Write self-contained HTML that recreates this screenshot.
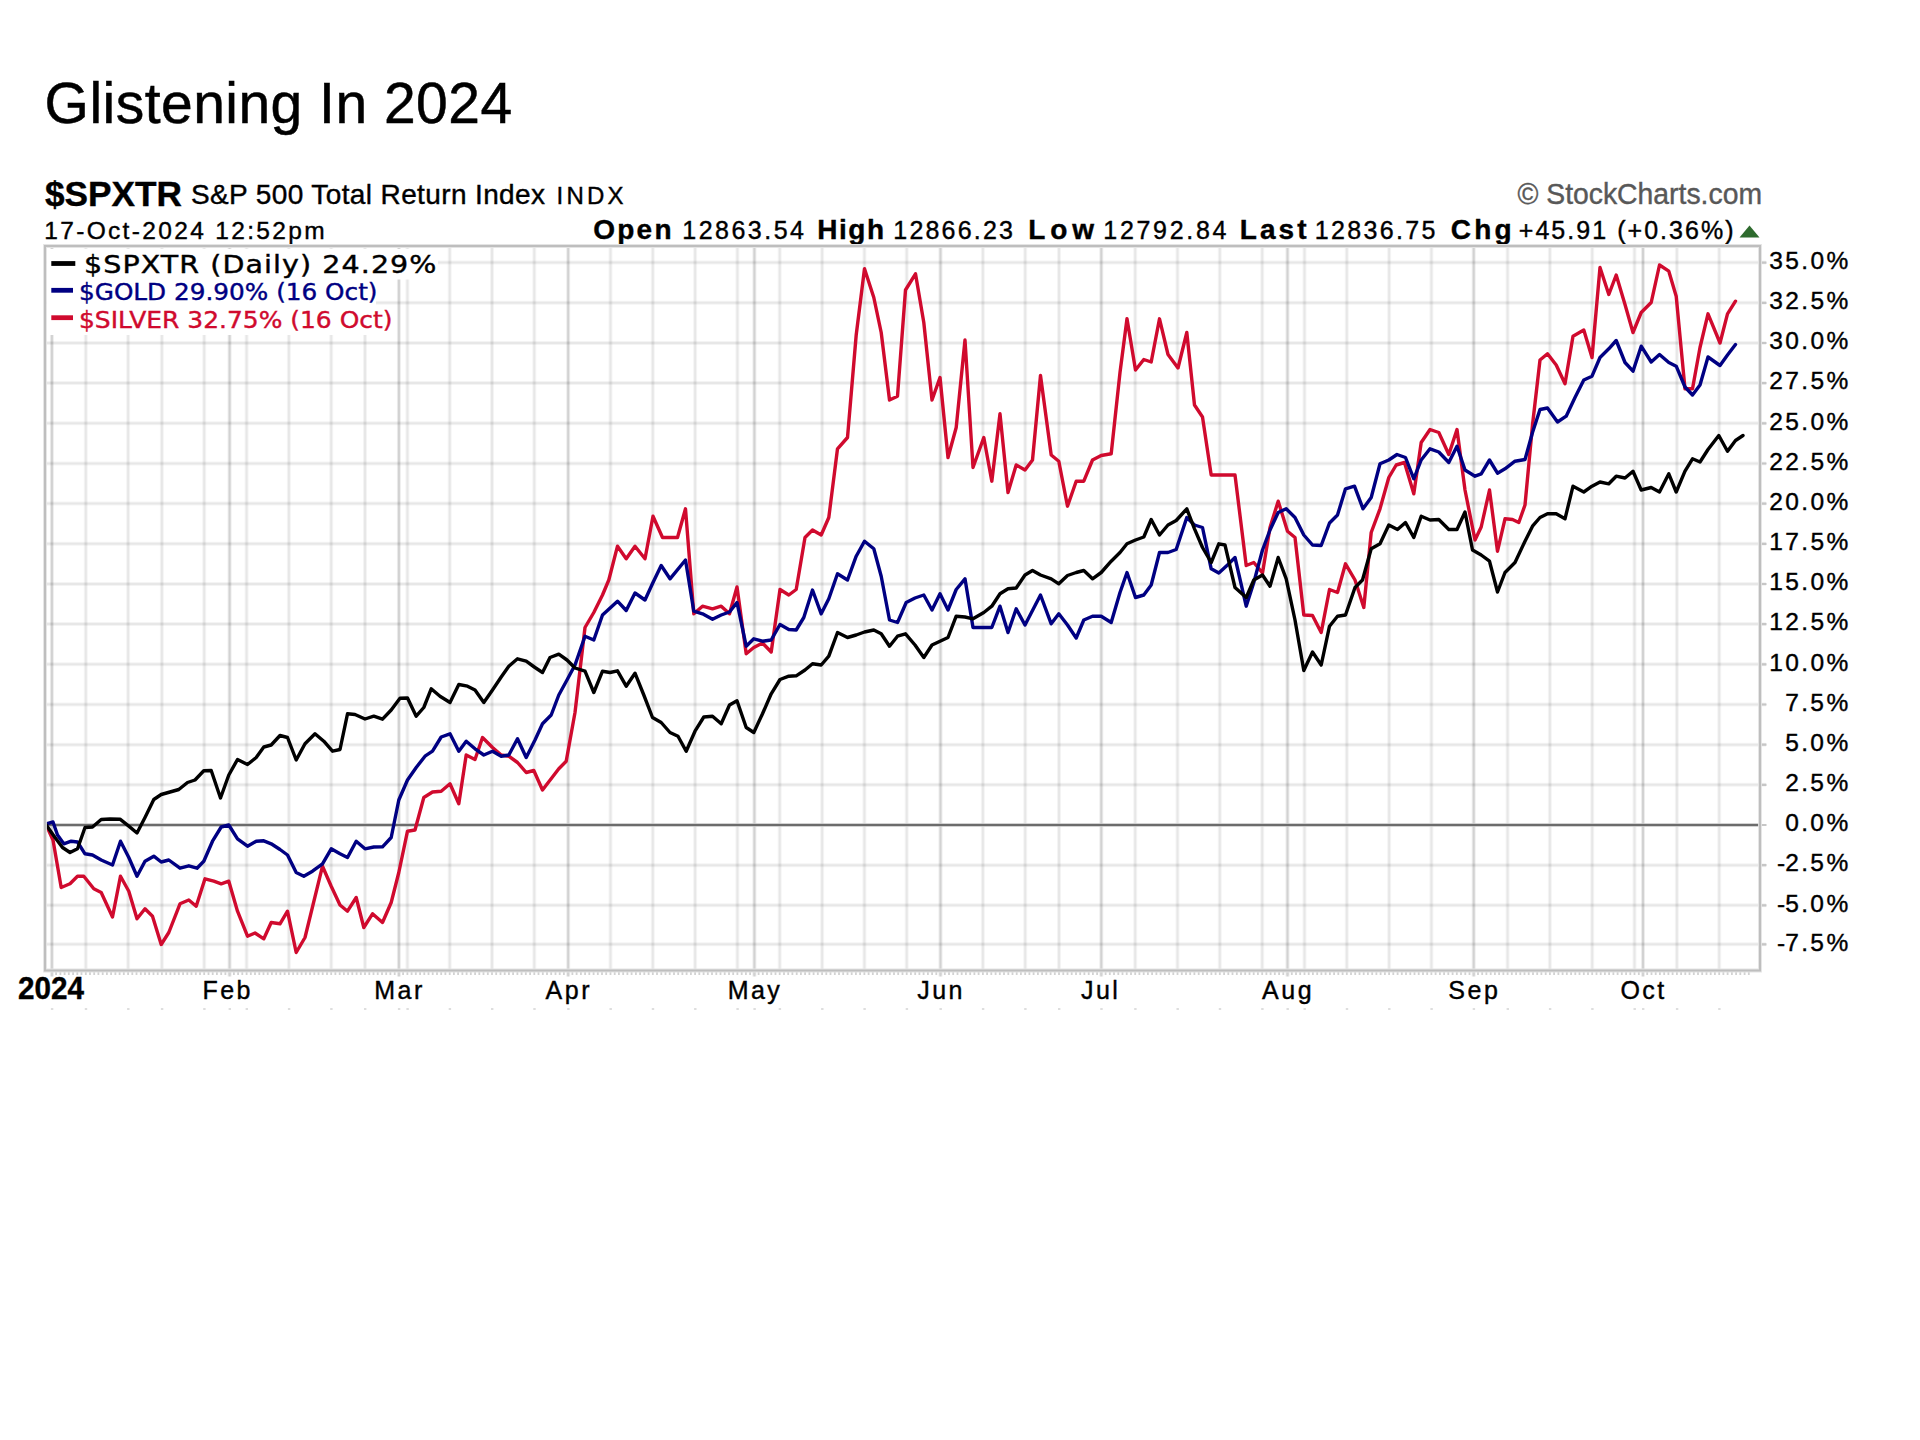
<!DOCTYPE html>
<html lang="en"><head><meta charset="utf-8"><title>Glistening In 2024</title>
<style>html,body{margin:0;padding:0;background:#fff}body{width:1920px;height:1440px;overflow:hidden}svg{display:block}text{font-family:"Liberation Sans",Arial,sans-serif;fill:#000}.t{font-size:57px;stroke:#000;stroke-width:0.5px}.dj{font-family:"DejaVu Sans",Verdana,sans-serif}.b{font-weight:bold}#chart text{stroke-width:0.4px;stroke:#000}.yl{font-size:24.5px;letter-spacing:2.4px;text-anchor:end}.xl{font-size:25px;letter-spacing:2.5px;text-anchor:middle}.ln{fill:none;stroke-width:3.4;stroke-linejoin:round;stroke-linecap:round}</style></head><body>
<svg width="1920" height="1440" viewBox="0 0 1920 1440">
<rect width="1920" height="1440" fill="#fff"/>
<text class="t" x="44.6" y="122.5" textLength="467.5" lengthAdjust="spacing">Glistening In 2024</text>
<g id="chart">
<text class="b" x="45" y="205.5" font-size="35" textLength="137" lengthAdjust="spacingAndGlyphs">$SPXTR</text>
<text x="191" y="203.5" font-size="28" textLength="354" lengthAdjust="spacing">S&amp;P 500 Total Return Index</text>
<text x="556.5" y="203.5" font-size="24" textLength="67" lengthAdjust="spacing">INDX</text>
<text x="1517.5" y="203.5" font-size="29" textLength="244.5" lengthAdjust="spacingAndGlyphs" style="fill:#585858;stroke:#585858">© StockCharts.com</text>
<text x="44.2" y="238.5" font-size="24.5" textLength="280.5" lengthAdjust="spacing">17-Oct-2024 12:52pm</text>
<text class="b" x="593.3" y="239" font-size="28" textLength="78.2" lengthAdjust="spacing">Open</text>
<text x="682.3" y="239" font-size="25" textLength="121.7" lengthAdjust="spacing">12863.54</text>
<text class="b" x="817.3" y="239" font-size="28" textLength="66.7" lengthAdjust="spacing">High</text>
<text x="893.3" y="239" font-size="25" textLength="119.7" lengthAdjust="spacing">12866.23</text>
<text class="b" x="1028.3" y="239" font-size="28" textLength="65.7" lengthAdjust="spacing">Low</text>
<text x="1103.3" y="239" font-size="25" textLength="123.2" lengthAdjust="spacing">12792.84</text>
<text class="b" x="1239.8" y="239" font-size="28" textLength="66.7" lengthAdjust="spacing">Last</text>
<text x="1314.8" y="239" font-size="25" textLength="120.7" lengthAdjust="spacing">12836.75</text>
<text class="b" x="1450.8" y="239" font-size="28" textLength="60.7" lengthAdjust="spacing">Chg</text>
<text x="1518.8" y="239" font-size="25" textLength="214.7" lengthAdjust="spacing">+45.91 (+0.36%)</text>
<path d="M1739.5 237.5 L1749.5 225.5 L1759.5 237.5 Z" fill="#2e6b2e"/>
<rect x="45.0" y="246.0" width="1715.0" height="724.5" fill="#fff"/>
<path d="M45.0 262.6H1766.0M45.0 302.8H1766.0M45.0 343.0H1766.0M45.0 383.1H1766.0M45.0 423.3H1766.0M45.0 463.5H1766.0M45.0 503.6H1766.0M45.0 543.8H1766.0M45.0 584.0H1766.0M45.0 624.1H1766.0M45.0 664.3H1766.0M45.0 704.5H1766.0M45.0 744.7H1766.0M45.0 784.8H1766.0M45.0 865.2H1766.0M45.0 905.3H1766.0M45.0 944.3H1766.0" stroke="#000" stroke-opacity="0.042" stroke-width="4.0" fill="none"/>
<path d="M45.0 262.6H1766.0M45.0 302.8H1766.0M45.0 343.0H1766.0M45.0 383.1H1766.0M45.0 423.3H1766.0M45.0 463.5H1766.0M45.0 503.6H1766.0M45.0 543.8H1766.0M45.0 584.0H1766.0M45.0 624.1H1766.0M45.0 664.3H1766.0M45.0 704.5H1766.0M45.0 744.7H1766.0M45.0 784.8H1766.0M45.0 865.2H1766.0M45.0 905.3H1766.0M45.0 944.3H1766.0" stroke="#000" stroke-opacity="0.05" stroke-width="2.0" fill="none"/>
<path d="M85.8 246.0V970.5M128.1 246.0V970.5M161.9 246.0V970.5M204.2 246.0V970.5M246.6 246.0V970.5M288.9 246.0V970.5M331.2 246.0V970.5M365.0 246.0V970.5M407.4 246.0V970.5M449.7 246.0V970.5M492.0 246.0V970.5M534.3 246.0V970.5M610.5 246.0V970.5M652.8 246.0V970.5M695.1 246.0V970.5M737.4 246.0V970.5M779.7 246.0V970.5M822.1 246.0V970.5M864.4 246.0V970.5M906.7 246.0V970.5M982.9 246.0V970.5M1025.2 246.0V970.5M1059.0 246.0V970.5M1135.2 246.0V970.5M1177.5 246.0V970.5M1219.8 246.0V970.5M1262.2 246.0V970.5M1304.5 246.0V970.5M1346.8 246.0V970.5M1389.1 246.0V970.5M1431.4 246.0V970.5M1507.6 246.0V970.5M1549.9 246.0V970.5M1592.2 246.0V970.5M1634.5 246.0V970.5M1676.9 246.0V970.5M1719.2 246.0V970.5" stroke="#000" stroke-opacity="0.042" stroke-width="4.0" fill="none"/>
<path d="M85.8 246.0V970.5M128.1 246.0V970.5M161.9 246.0V970.5M204.2 246.0V970.5M246.6 246.0V970.5M288.9 246.0V970.5M331.2 246.0V970.5M365.0 246.0V970.5M407.4 246.0V970.5M449.7 246.0V970.5M492.0 246.0V970.5M534.3 246.0V970.5M610.5 246.0V970.5M652.8 246.0V970.5M695.1 246.0V970.5M737.4 246.0V970.5M779.7 246.0V970.5M822.1 246.0V970.5M864.4 246.0V970.5M906.7 246.0V970.5M982.9 246.0V970.5M1025.2 246.0V970.5M1059.0 246.0V970.5M1135.2 246.0V970.5M1177.5 246.0V970.5M1219.8 246.0V970.5M1262.2 246.0V970.5M1304.5 246.0V970.5M1346.8 246.0V970.5M1389.1 246.0V970.5M1431.4 246.0V970.5M1507.6 246.0V970.5M1549.9 246.0V970.5M1592.2 246.0V970.5M1634.5 246.0V970.5M1676.9 246.0V970.5M1719.2 246.0V970.5" stroke="#000" stroke-opacity="0.05" stroke-width="2.0" fill="none"/>
<path d="M51.9 246.0V976.5M229.6 246.0V976.5M398.9 246.0V976.5M568.2 246.0V976.5M754.4 246.0V976.5M940.5 246.0V976.5M1101.3 246.0V976.5M1287.5 246.0V976.5M1473.7 246.0V976.5M1643.0 246.0V976.5" stroke="#000" stroke-opacity="0.07" stroke-width="4.0" fill="none"/>
<path d="M51.9 246.0V976.5M229.6 246.0V976.5M398.9 246.0V976.5M568.2 246.0V976.5M754.4 246.0V976.5M940.5 246.0V976.5M1101.3 246.0V976.5M1287.5 246.0V976.5M1473.7 246.0V976.5M1643.0 246.0V976.5" stroke="#000" stroke-opacity="0.115" stroke-width="2.0" fill="none"/>
<path d="M51.9 970.5v4.5M56.1 970.5v4.5M60.4 970.5v4.5M64.6 970.5v4.5M68.8 970.5v4.5M73.1 970.5v4.5M77.3 970.5v4.5M81.5 970.5v4.5M85.8 970.5v4.5M90.0 970.5v4.5M94.2 970.5v4.5M98.4 970.5v4.5M102.7 970.5v4.5M106.9 970.5v4.5M111.1 970.5v4.5M115.4 970.5v4.5M119.6 970.5v4.5M123.8 970.5v4.5M128.1 970.5v4.5M132.3 970.5v4.5M136.5 970.5v4.5M140.8 970.5v4.5M145.0 970.5v4.5M149.2 970.5v4.5M153.5 970.5v4.5M157.7 970.5v4.5M161.9 970.5v4.5M166.2 970.5v4.5M170.4 970.5v4.5M174.6 970.5v4.5M178.8 970.5v4.5M183.1 970.5v4.5M187.3 970.5v4.5M191.5 970.5v4.5M195.8 970.5v4.5M200.0 970.5v4.5M204.2 970.5v4.5M208.5 970.5v4.5M212.7 970.5v4.5M216.9 970.5v4.5M221.2 970.5v4.5M225.4 970.5v4.5M229.6 970.5v4.5M233.9 970.5v4.5M238.1 970.5v4.5M242.3 970.5v4.5M246.6 970.5v4.5M250.8 970.5v4.5M255.0 970.5v4.5M259.3 970.5v4.5M263.5 970.5v4.5M267.7 970.5v4.5M271.9 970.5v4.5M276.2 970.5v4.5M280.4 970.5v4.5M284.6 970.5v4.5M288.9 970.5v4.5M293.1 970.5v4.5M297.3 970.5v4.5M301.6 970.5v4.5M305.8 970.5v4.5M310.0 970.5v4.5M314.3 970.5v4.5M318.5 970.5v4.5M322.7 970.5v4.5M327.0 970.5v4.5M331.2 970.5v4.5M335.4 970.5v4.5M339.7 970.5v4.5M343.9 970.5v4.5M348.1 970.5v4.5M352.3 970.5v4.5M356.6 970.5v4.5M360.8 970.5v4.5M365.0 970.5v4.5M369.3 970.5v4.5M373.5 970.5v4.5M377.7 970.5v4.5M382.0 970.5v4.5M386.2 970.5v4.5M390.4 970.5v4.5M394.7 970.5v4.5M398.9 970.5v4.5M403.1 970.5v4.5M407.4 970.5v4.5M411.6 970.5v4.5M415.8 970.5v4.5M420.1 970.5v4.5M424.3 970.5v4.5M428.5 970.5v4.5M432.7 970.5v4.5M437.0 970.5v4.5M441.2 970.5v4.5M445.4 970.5v4.5M449.7 970.5v4.5M453.9 970.5v4.5M458.1 970.5v4.5M462.4 970.5v4.5M466.6 970.5v4.5M470.8 970.5v4.5M475.1 970.5v4.5M479.3 970.5v4.5M483.5 970.5v4.5M487.8 970.5v4.5M492.0 970.5v4.5M496.2 970.5v4.5M500.5 970.5v4.5M504.7 970.5v4.5M508.9 970.5v4.5M513.1 970.5v4.5M517.4 970.5v4.5M521.6 970.5v4.5M525.8 970.5v4.5M530.1 970.5v4.5M534.3 970.5v4.5M538.5 970.5v4.5M542.8 970.5v4.5M547.0 970.5v4.5M551.2 970.5v4.5M555.5 970.5v4.5M559.7 970.5v4.5M563.9 970.5v4.5M568.2 970.5v4.5M572.4 970.5v4.5M576.6 970.5v4.5M580.9 970.5v4.5M585.1 970.5v4.5M589.3 970.5v4.5M593.6 970.5v4.5M597.8 970.5v4.5M602.0 970.5v4.5M606.2 970.5v4.5M610.5 970.5v4.5M614.7 970.5v4.5M618.9 970.5v4.5M623.2 970.5v4.5M627.4 970.5v4.5M631.6 970.5v4.5M635.9 970.5v4.5M640.1 970.5v4.5M644.3 970.5v4.5M648.6 970.5v4.5M652.8 970.5v4.5M657.0 970.5v4.5M661.3 970.5v4.5M665.5 970.5v4.5M669.7 970.5v4.5M674.0 970.5v4.5M678.2 970.5v4.5M682.4 970.5v4.5M686.6 970.5v4.5M690.9 970.5v4.5M695.1 970.5v4.5M699.3 970.5v4.5M703.6 970.5v4.5M707.8 970.5v4.5M712.0 970.5v4.5M716.3 970.5v4.5M720.5 970.5v4.5M724.7 970.5v4.5M729.0 970.5v4.5M733.2 970.5v4.5M737.4 970.5v4.5M741.7 970.5v4.5M745.9 970.5v4.5M750.1 970.5v4.5M754.4 970.5v4.5M758.6 970.5v4.5M762.8 970.5v4.5M767.0 970.5v4.5M771.3 970.5v4.5M775.5 970.5v4.5M779.7 970.5v4.5M784.0 970.5v4.5M788.2 970.5v4.5M792.4 970.5v4.5M796.7 970.5v4.5M800.9 970.5v4.5M805.1 970.5v4.5M809.4 970.5v4.5M813.6 970.5v4.5M817.8 970.5v4.5M822.1 970.5v4.5M826.3 970.5v4.5M830.5 970.5v4.5M834.8 970.5v4.5M839.0 970.5v4.5M843.2 970.5v4.5M847.5 970.5v4.5M851.7 970.5v4.5M855.9 970.5v4.5M860.1 970.5v4.5M864.4 970.5v4.5M868.6 970.5v4.5M872.8 970.5v4.5M877.1 970.5v4.5M881.3 970.5v4.5M885.5 970.5v4.5M889.8 970.5v4.5M894.0 970.5v4.5M898.2 970.5v4.5M902.5 970.5v4.5M906.7 970.5v4.5M910.9 970.5v4.5M915.2 970.5v4.5M919.4 970.5v4.5M923.6 970.5v4.5M927.9 970.5v4.5M932.1 970.5v4.5M936.3 970.5v4.5M940.5 970.5v4.5M944.8 970.5v4.5M949.0 970.5v4.5M953.2 970.5v4.5M957.5 970.5v4.5M961.7 970.5v4.5M965.9 970.5v4.5M970.2 970.5v4.5M974.4 970.5v4.5M978.6 970.5v4.5M982.9 970.5v4.5M987.1 970.5v4.5M991.3 970.5v4.5M995.6 970.5v4.5M999.8 970.5v4.5M1004.0 970.5v4.5M1008.3 970.5v4.5M1012.5 970.5v4.5M1016.7 970.5v4.5M1020.9 970.5v4.5M1025.2 970.5v4.5M1029.4 970.5v4.5M1033.6 970.5v4.5M1037.9 970.5v4.5M1042.1 970.5v4.5M1046.3 970.5v4.5M1050.6 970.5v4.5M1054.8 970.5v4.5M1059.0 970.5v4.5M1063.3 970.5v4.5M1067.5 970.5v4.5M1071.7 970.5v4.5M1076.0 970.5v4.5M1080.2 970.5v4.5M1084.4 970.5v4.5M1088.7 970.5v4.5M1092.9 970.5v4.5M1097.1 970.5v4.5M1101.3 970.5v4.5M1105.6 970.5v4.5M1109.8 970.5v4.5M1114.0 970.5v4.5M1118.3 970.5v4.5M1122.5 970.5v4.5M1126.7 970.5v4.5M1131.0 970.5v4.5M1135.2 970.5v4.5M1139.4 970.5v4.5M1143.7 970.5v4.5M1147.9 970.5v4.5M1152.1 970.5v4.5M1156.4 970.5v4.5M1160.6 970.5v4.5M1164.8 970.5v4.5M1169.1 970.5v4.5M1173.3 970.5v4.5M1177.5 970.5v4.5M1181.8 970.5v4.5M1186.0 970.5v4.5M1190.2 970.5v4.5M1194.4 970.5v4.5M1198.7 970.5v4.5M1202.9 970.5v4.5M1207.1 970.5v4.5M1211.4 970.5v4.5M1215.6 970.5v4.5M1219.8 970.5v4.5M1224.1 970.5v4.5M1228.3 970.5v4.5M1232.5 970.5v4.5M1236.8 970.5v4.5M1241.0 970.5v4.5M1245.2 970.5v4.5M1249.5 970.5v4.5M1253.7 970.5v4.5M1257.9 970.5v4.5M1262.2 970.5v4.5M1266.4 970.5v4.5M1270.6 970.5v4.5M1274.8 970.5v4.5M1279.1 970.5v4.5M1283.3 970.5v4.5M1287.5 970.5v4.5M1291.8 970.5v4.5M1296.0 970.5v4.5M1300.2 970.5v4.5M1304.5 970.5v4.5M1308.7 970.5v4.5M1312.9 970.5v4.5M1317.2 970.5v4.5M1321.4 970.5v4.5M1325.6 970.5v4.5M1329.9 970.5v4.5M1334.1 970.5v4.5M1338.3 970.5v4.5M1342.6 970.5v4.5M1346.8 970.5v4.5M1351.0 970.5v4.5M1355.2 970.5v4.5M1359.5 970.5v4.5M1363.7 970.5v4.5M1367.9 970.5v4.5M1372.2 970.5v4.5M1376.4 970.5v4.5M1380.6 970.5v4.5M1384.9 970.5v4.5M1389.1 970.5v4.5M1393.3 970.5v4.5M1397.6 970.5v4.5M1401.8 970.5v4.5M1406.0 970.5v4.5M1410.3 970.5v4.5M1414.5 970.5v4.5M1418.7 970.5v4.5M1423.0 970.5v4.5M1427.2 970.5v4.5M1431.4 970.5v4.5M1435.6 970.5v4.5M1439.9 970.5v4.5M1444.1 970.5v4.5M1448.3 970.5v4.5M1452.6 970.5v4.5M1456.8 970.5v4.5M1461.0 970.5v4.5M1465.3 970.5v4.5M1469.5 970.5v4.5M1473.7 970.5v4.5M1478.0 970.5v4.5M1482.2 970.5v4.5M1486.4 970.5v4.5M1490.7 970.5v4.5M1494.9 970.5v4.5M1499.1 970.5v4.5M1503.4 970.5v4.5M1507.6 970.5v4.5M1511.8 970.5v4.5M1516.1 970.5v4.5M1520.3 970.5v4.5M1524.5 970.5v4.5M1528.7 970.5v4.5M1533.0 970.5v4.5M1537.2 970.5v4.5M1541.4 970.5v4.5M1545.7 970.5v4.5M1549.9 970.5v4.5M1554.1 970.5v4.5M1558.4 970.5v4.5M1562.6 970.5v4.5M1566.8 970.5v4.5M1571.1 970.5v4.5M1575.3 970.5v4.5M1579.5 970.5v4.5M1583.8 970.5v4.5M1588.0 970.5v4.5M1592.2 970.5v4.5M1596.5 970.5v4.5M1600.7 970.5v4.5M1604.9 970.5v4.5M1609.1 970.5v4.5M1613.4 970.5v4.5M1617.6 970.5v4.5M1621.8 970.5v4.5M1626.1 970.5v4.5M1630.3 970.5v4.5M1634.5 970.5v4.5M1638.8 970.5v4.5M1643.0 970.5v4.5M1647.2 970.5v4.5M1651.5 970.5v4.5M1655.7 970.5v4.5M1659.9 970.5v4.5M1664.2 970.5v4.5M1668.4 970.5v4.5M1672.6 970.5v4.5M1676.9 970.5v4.5M1681.1 970.5v4.5M1685.3 970.5v4.5M1689.5 970.5v4.5M1693.8 970.5v4.5M1698.0 970.5v4.5M1702.2 970.5v4.5M1706.5 970.5v4.5M1710.7 970.5v4.5M1714.9 970.5v4.5M1719.2 970.5v4.5M1723.4 970.5v4.5M1727.6 970.5v4.5M1731.9 970.5v4.5M1736.1 970.5v4.5M1740.3 970.5v4.5M1744.6 970.5v4.5M1748.8 970.5v4.5" stroke="#d2d2d2" stroke-width="1.8" fill="none"/>
<path d="M50.9 1009h2.4M84.8 1009h2.4M127.1 1009h2.4M160.9 1009h2.4M203.2 1009h2.4M228.6 1009h2.4M245.6 1009h2.4M287.9 1009h2.4M330.2 1009h2.4M364.0 1009h2.4M397.9 1009h2.4M406.4 1009h2.4M448.7 1009h2.4M491.0 1009h2.4M533.3 1009h2.4M567.2 1009h2.4M609.5 1009h2.4M651.8 1009h2.4M694.1 1009h2.4M736.4 1009h2.4M753.4 1009h2.4M778.7 1009h2.4M821.1 1009h2.4M863.4 1009h2.4M905.7 1009h2.4M939.5 1009h2.4M981.9 1009h2.4M1024.2 1009h2.4M1058.0 1009h2.4M1100.3 1009h2.4M1134.2 1009h2.4M1176.5 1009h2.4M1218.8 1009h2.4M1261.2 1009h2.4M1286.5 1009h2.4M1303.5 1009h2.4M1345.8 1009h2.4M1388.1 1009h2.4M1430.4 1009h2.4M1472.7 1009h2.4M1506.6 1009h2.4M1548.9 1009h2.4M1591.2 1009h2.4M1633.5 1009h2.4M1642.0 1009h2.4M1675.9 1009h2.4M1718.2 1009h2.4" stroke="#dedede" stroke-width="2.2" fill="none"/>
<path d="M1760.0 262.6h6.5M1760.0 302.8h6.5M1760.0 343.0h6.5M1760.0 383.1h6.5M1760.0 423.3h6.5M1760.0 463.5h6.5M1760.0 503.6h6.5M1760.0 543.8h6.5M1760.0 584.0h6.5M1760.0 624.1h6.5M1760.0 664.3h6.5M1760.0 704.5h6.5M1760.0 744.7h6.5M1760.0 784.8h6.5M1760.0 825.0h6.5M1760.0 865.2h6.5M1760.0 905.3h6.5M1760.0 944.3h6.5" stroke="#c6c6c6" stroke-width="2.2" fill="none"/>
<path d="M45.0 825.0H1760.0" stroke="#c4c4c4" stroke-width="3.6" fill="none"/>
<path d="M45.0 825.0H1760.0" stroke="#6c6c6c" stroke-width="2.0" fill="none"/>
<rect x="47" y="249" width="391" height="30.5" fill="#fff"/>
<rect x="47" y="279" width="329" height="29" fill="#fff"/>
<rect x="47" y="307.5" width="343.5" height="27.5" fill="#fff"/>
<clipPath id="cp"><rect x="45.0" y="246.0" width="1715.0" height="724.5"/></clipPath>
<g clip-path="url(#cp)">
<path class="ln" d="M46.2 825.0 L53.0 840.0 L61.2 887.5 L70.0 883.8 L77.5 876.2 L83.8 876.2 L93.8 888.8 L101.2 892.5 L112.5 917.0 L120.5 876.2 L128.8 891.2 L137.0 918.8 L145.0 908.8 L152.5 916.2 L161.2 944.5 L168.8 932.5 L180.0 903.8 L188.8 900.0 L196.2 906.2 L205.0 878.8 L213.8 881.2 L221.2 883.8 L228.8 881.2 L237.5 911.2 L247.5 936.2 L255.0 933.0 L263.8 938.8 L271.2 922.5 L280.0 923.8 L287.5 911.2 L296.2 952.5 L305.0 937.5 L322.5 866.2 L331.2 886.2 L340.0 905.0 L347.5 911.2 L356.2 897.5 L363.8 927.5 L372.5 913.8 L382.5 922.5 L391.2 902.5 L398.8 872.5 L407.5 831.2 L415.0 830.0 L423.8 797.5 L432.5 792.0 L441.2 791.2 L450.0 783.8 L458.8 803.8 L466.2 755.0 L475.0 759.5 L482.5 737.5 L492.5 747.5 L501.2 755.0 L508.8 756.2 L517.5 762.5 L526.2 772.5 L533.8 770.5 L542.5 790.0 L558.8 768.8 L566.2 761.2 L575.0 712.5 L585.0 627.5 L593.8 612.5 L602.5 595.0 L608.8 580.0 L617.5 546.2 L626.2 558.8 L635.0 546.2 L645.0 558.8 L653.0 516.2 L662.5 537.5 L677.5 537.5 L685.5 508.8 L693.8 613.8 L702.5 606.2 L712.5 608.8 L721.2 606.2 L729.5 613.8 L737.0 587.0 L746.2 653.8 L753.8 647.5 L762.5 643.0 L771.2 652.0 L780.0 589.5 L788.8 595.0 L796.2 589.5 L805.0 537.5 L812.5 530.0 L821.2 535.0 L828.8 517.5 L837.5 448.8 L847.5 437.5 L856.2 335.0 L864.5 268.8 L873.8 297.5 L881.2 332.5 L889.5 400.0 L897.5 396.2 L905.5 290.0 L915.5 273.8 L923.8 322.5 L932.0 400.0 L940.0 377.5 L948.0 457.5 L956.2 427.5 L965.0 340.0 L973.0 467.5 L983.8 437.5 L991.8 481.2 L1000.0 413.8 L1008.0 492.5 L1016.2 465.0 L1025.0 470.0 L1032.5 460.0 L1040.5 375.5 L1051.2 455.0 L1058.8 461.2 L1067.5 506.2 L1076.2 481.2 L1083.8 481.2 L1092.5 460.0 L1101.2 455.5 L1111.2 453.8 L1120.0 372.5 L1127.0 318.8 L1135.5 370.0 L1143.8 359.5 L1151.2 362.0 L1159.5 318.8 L1168.0 354.5 L1178.0 368.0 L1186.8 332.5 L1194.5 405.0 L1202.5 417.0 L1211.2 475.0 L1235.0 475.0 L1246.2 565.5 L1253.8 562.5 L1262.5 573.0 L1270.0 527.5 L1278.2 501.2 L1287.5 531.2 L1295.0 537.5 L1303.8 615.0 L1312.5 615.5 L1321.2 632.5 L1329.5 589.5 L1337.5 592.5 L1345.5 563.8 L1355.0 580.0 L1363.8 607.5 L1371.2 532.5 L1380.0 508.8 L1388.8 477.5 L1396.2 465.0 L1404.5 462.5 L1413.8 493.8 L1421.2 442.5 L1430.0 429.5 L1438.8 432.5 L1448.8 454.5 L1457.0 429.5 L1465.0 490.0 L1475.0 540.0 L1481.2 527.0 L1489.5 490.0 L1497.5 551.2 L1505.0 518.8 L1512.5 519.5 L1518.8 522.5 L1525.0 505.0 L1532.5 425.0 L1540.0 360.0 L1547.5 353.8 L1556.2 365.0 L1565.0 383.8 L1573.0 336.2 L1583.8 330.0 L1592.0 357.5 L1600.0 267.5 L1608.8 294.5 L1616.2 275.0 L1625.0 304.5 L1633.0 332.5 L1641.2 312.5 L1651.2 302.5 L1659.5 265.0 L1668.8 271.2 L1676.2 296.2 L1685.0 388.8 L1692.5 388.8 L1700.0 347.5 L1708.0 313.8 L1720.0 343.0 L1727.5 313.8 L1735.5 301.2" stroke="#d00a2e"/>
<path class="ln" d="M46.2 823.8 L53.0 822.0 L57.5 835.0 L63.8 843.8 L71.2 841.2 L77.5 842.0 L85.0 853.8 L92.5 855.0 L101.2 860.0 L112.5 865.0 L120.5 841.2 L128.8 857.5 L137.0 876.2 L145.0 861.2 L153.8 856.2 L161.2 862.0 L168.8 860.0 L180.0 868.2 L188.8 865.8 L197.0 868.2 L203.8 861.2 L212.5 841.2 L221.2 827.0 L228.8 825.0 L237.5 838.8 L247.5 846.2 L256.2 841.2 L263.8 840.8 L271.2 843.8 L280.0 849.5 L287.5 855.0 L296.2 872.5 L303.8 876.2 L312.5 871.2 L322.5 863.8 L331.2 848.8 L340.0 853.8 L347.5 857.5 L356.2 841.2 L365.0 848.8 L373.8 847.0 L382.5 846.8 L391.2 837.5 L398.8 800.0 L407.5 780.0 L416.2 767.5 L425.0 756.2 L432.5 751.2 L441.2 737.0 L450.0 733.8 L458.8 751.2 L466.2 741.2 L475.0 748.8 L483.8 755.0 L492.5 751.2 L501.2 756.2 L508.8 755.0 L517.5 738.8 L526.2 757.5 L535.0 740.0 L542.5 723.8 L551.2 715.0 L558.8 695.0 L567.0 680.0 L575.0 665.0 L585.0 636.2 L593.8 640.0 L602.5 615.0 L617.5 601.2 L626.2 610.5 L635.0 593.0 L645.0 600.0 L653.0 582.5 L661.2 565.5 L670.0 578.8 L685.5 560.0 L693.8 611.2 L702.5 613.8 L712.5 619.2 L721.2 615.0 L729.5 612.0 L737.0 602.5 L746.2 646.2 L753.8 638.8 L762.5 641.2 L771.2 640.0 L780.0 624.5 L788.8 629.5 L796.2 630.0 L803.8 617.5 L812.5 590.0 L821.2 613.8 L828.8 598.8 L837.5 573.8 L847.5 580.0 L856.2 556.2 L864.5 541.2 L873.8 548.8 L881.2 576.2 L889.5 620.0 L897.5 622.5 L906.2 602.5 L915.0 598.0 L923.8 595.0 L932.0 610.0 L940.0 593.8 L948.0 610.0 L956.2 589.5 L965.0 578.8 L973.0 627.5 L991.8 627.5 L1000.0 606.2 L1008.0 632.5 L1016.2 608.8 L1025.0 625.0 L1040.5 595.0 L1051.2 623.8 L1058.8 613.8 L1067.5 625.0 L1076.2 638.0 L1083.8 620.0 L1092.5 616.2 L1101.2 616.2 L1111.2 622.5 L1120.0 592.5 L1127.0 572.5 L1135.5 597.5 L1143.8 595.0 L1151.2 585.0 L1159.5 552.5 L1168.0 552.5 L1176.2 549.5 L1186.8 517.5 L1194.5 525.0 L1202.5 527.5 L1211.2 568.8 L1218.8 573.0 L1227.5 565.0 L1235.0 557.5 L1246.2 606.2 L1253.8 582.5 L1262.5 550.0 L1270.0 530.0 L1278.2 512.5 L1286.2 508.8 L1295.0 517.5 L1303.8 535.0 L1312.5 545.0 L1321.2 545.5 L1329.5 523.0 L1337.5 515.0 L1345.5 488.8 L1354.5 486.2 L1363.0 508.8 L1371.2 497.5 L1380.0 463.8 L1388.8 460.0 L1397.0 454.5 L1405.5 457.5 L1413.8 478.8 L1421.2 460.0 L1430.0 448.8 L1438.8 452.0 L1448.8 462.5 L1457.0 446.2 L1465.0 470.0 L1475.0 476.2 L1481.2 473.8 L1489.5 460.0 L1497.5 473.2 L1505.0 468.8 L1515.0 461.2 L1525.0 459.5 L1532.5 432.5 L1540.0 409.5 L1547.5 408.0 L1557.5 422.0 L1566.2 416.2 L1575.0 397.5 L1583.8 380.0 L1592.0 376.2 L1600.0 357.5 L1608.8 348.8 L1616.2 340.5 L1625.0 362.5 L1633.0 371.2 L1641.2 346.2 L1651.2 362.0 L1659.5 354.5 L1668.8 362.5 L1676.2 366.2 L1685.0 387.0 L1692.5 395.0 L1700.0 385.0 L1708.0 357.0 L1720.0 365.5 L1727.5 355.0 L1735.5 344.5" stroke="#000082"/>
<path class="ln" d="M46.2 825.0 L55.0 837.5 L62.5 847.5 L70.0 852.5 L77.5 848.8 L85.0 827.5 L92.5 827.0 L101.2 819.5 L110.0 819.0 L120.0 819.2 L128.8 826.2 L137.0 833.0 L145.0 817.5 L153.8 799.5 L161.2 794.5 L170.0 792.0 L178.8 789.5 L187.5 782.5 L195.0 780.0 L203.8 770.8 L211.2 770.5 L220.5 798.0 L228.8 775.0 L237.5 759.5 L247.5 764.5 L256.2 757.5 L263.8 747.0 L271.2 745.0 L280.0 735.5 L287.5 737.5 L296.2 760.0 L305.0 743.8 L315.0 733.8 L323.8 741.2 L332.5 751.2 L340.0 749.5 L347.5 713.8 L355.0 714.5 L365.0 719.0 L373.8 716.2 L382.5 719.2 L391.2 710.0 L400.0 698.2 L407.5 698.0 L416.2 716.2 L423.8 707.5 L431.2 688.8 L440.0 696.2 L450.0 702.5 L458.8 684.5 L467.5 686.2 L475.0 690.0 L483.8 702.5 L492.5 690.0 L501.2 677.0 L508.8 666.2 L517.5 658.8 L526.2 661.2 L535.0 667.5 L542.5 672.5 L550.0 657.5 L558.8 654.2 L567.0 660.0 L575.0 668.0 L585.0 671.2 L593.8 692.5 L602.5 671.2 L610.0 672.5 L617.5 670.8 L626.2 686.2 L635.0 673.2 L643.8 695.0 L652.5 717.5 L661.2 722.5 L670.0 732.5 L678.0 736.2 L686.2 751.2 L695.0 731.2 L703.8 717.0 L712.5 716.2 L721.2 723.8 L729.5 705.0 L737.0 700.8 L746.2 727.5 L753.8 732.5 L762.5 713.8 L771.2 693.8 L780.0 679.5 L788.8 676.2 L796.2 675.8 L805.0 670.0 L812.5 663.8 L821.2 665.0 L828.8 656.2 L837.5 632.5 L847.5 637.5 L856.2 635.0 L864.5 632.0 L873.8 630.0 L881.2 633.8 L889.5 646.2 L897.5 636.2 L905.5 633.8 L915.0 645.0 L923.8 657.5 L932.0 645.0 L940.0 641.2 L948.0 637.5 L956.2 616.2 L965.0 617.0 L973.0 618.8 L983.8 612.5 L991.8 606.2 L1000.0 593.8 L1008.0 588.8 L1016.2 588.0 L1025.0 575.0 L1032.5 570.5 L1040.5 575.0 L1051.2 578.8 L1058.8 583.8 L1067.5 575.5 L1076.2 572.5 L1083.8 570.5 L1092.5 578.8 L1101.2 572.5 L1111.2 561.2 L1120.0 552.5 L1127.0 543.8 L1135.5 540.0 L1143.8 537.0 L1151.2 519.5 L1159.5 535.0 L1168.0 525.0 L1176.2 520.5 L1186.8 508.8 L1194.5 528.8 L1202.5 547.5 L1211.2 562.5 L1218.8 543.8 L1225.0 545.0 L1235.0 587.5 L1246.2 597.5 L1253.8 580.0 L1262.5 575.0 L1270.0 586.2 L1278.2 557.5 L1286.2 578.8 L1295.0 620.0 L1303.8 670.5 L1312.5 652.0 L1321.2 665.0 L1329.5 626.2 L1337.5 616.2 L1345.5 615.0 L1355.0 587.5 L1362.5 580.0 L1371.2 548.8 L1380.0 543.8 L1388.8 525.0 L1397.5 529.5 L1405.5 522.5 L1413.8 537.5 L1421.2 516.2 L1430.0 520.0 L1438.8 519.5 L1448.8 529.5 L1457.0 529.5 L1465.0 512.0 L1472.5 550.0 L1481.2 555.0 L1489.5 561.2 L1497.5 592.0 L1505.0 572.5 L1515.0 562.5 L1525.0 541.2 L1532.5 526.2 L1540.0 517.5 L1547.5 513.8 L1556.2 513.8 L1565.0 518.8 L1573.0 486.2 L1583.8 492.0 L1592.0 486.2 L1600.0 482.0 L1608.8 483.8 L1616.2 476.2 L1625.0 478.0 L1633.0 471.2 L1641.2 490.0 L1651.2 487.5 L1659.5 492.0 L1668.8 473.8 L1676.2 492.0 L1685.0 471.2 L1692.5 458.8 L1700.0 462.0 L1708.0 449.5 L1718.8 435.5 L1727.5 451.2 L1735.5 440.5 L1743.0 435.5" stroke="#000"/>
</g>
<path d="M45.0 246.0H1760.0V970.5H45.0Z" stroke="#e4e4e4" stroke-width="3.8" fill="none"/>
<path d="M45.0 246.0H1760.0V970.5H45.0Z" stroke="#bebebe" stroke-width="2.0" fill="none"/>
<path d="M51.3 263.5H75.3" stroke="#000" stroke-width="4.8"/>
<path d="M51.3 290.3H73" stroke="#000082" stroke-width="4.8"/>
<path d="M51.3 317.7H73" stroke="#d00a2e" stroke-width="4.8"/>
<text class="dj" x="84" y="273.4" font-size="24" letter-spacing="0.9" textLength="353.5" lengthAdjust="spacingAndGlyphs">$SPXTR (Daily) 24.29%</text>
<text class="dj" x="79" y="300.4" font-size="22.6" textLength="298.5" lengthAdjust="spacingAndGlyphs" style="fill:#000082;stroke:#000082">$GOLD 29.90% (16 Oct)</text>
<text class="dj" x="79" y="327.9" font-size="22.6" textLength="313.5" lengthAdjust="spacingAndGlyphs" style="fill:#d00a2e;stroke:#d00a2e">$SILVER 32.75% (16 Oct)</text>
<text class="yl" x="1850.6" y="268.8">35.0%</text>
<text class="yl" x="1850.6" y="309.0">32.5%</text>
<text class="yl" x="1850.6" y="349.2">30.0%</text>
<text class="yl" x="1850.6" y="389.3">27.5%</text>
<text class="yl" x="1850.6" y="429.5">25.0%</text>
<text class="yl" x="1850.6" y="469.7">22.5%</text>
<text class="yl" x="1850.6" y="509.8">20.0%</text>
<text class="yl" x="1850.6" y="550.0">17.5%</text>
<text class="yl" x="1850.6" y="590.2">15.0%</text>
<text class="yl" x="1850.6" y="630.4">12.5%</text>
<text class="yl" x="1850.6" y="670.5">10.0%</text>
<text class="yl" x="1850.6" y="710.7">7.5%</text>
<text class="yl" x="1850.6" y="750.9">5.0%</text>
<text class="yl" x="1850.6" y="791.0">2.5%</text>
<text class="yl" x="1850.6" y="831.2">0.0%</text>
<text class="yl" x="1850.6" y="871.4"><tspan letter-spacing="0">-</tspan>2.5%</text>
<text class="yl" x="1850.6" y="911.5"><tspan letter-spacing="0">-</tspan>5.0%</text>
<text class="yl" x="1850.6" y="950.5"><tspan letter-spacing="0">-</tspan>7.5%</text>
<text class="b" x="18" y="999.3" font-size="31" textLength="66" lengthAdjust="spacingAndGlyphs">2024</text>
<text class="xl" x="227.7" y="999">Feb</text>
<text class="xl" x="399.5" y="999">Mar</text>
<text class="xl" x="568.8" y="999">Apr</text>
<text class="xl" x="755.0" y="999">May</text>
<text class="xl" x="941.1" y="999">Jun</text>
<text class="xl" x="1100.7" y="999">Jul</text>
<text class="xl" x="1288.1" y="999">Aug</text>
<text class="xl" x="1474.3" y="999">Sep</text>
<text class="xl" x="1643.6" y="999">Oct</text>
</g>
</svg></body></html>
